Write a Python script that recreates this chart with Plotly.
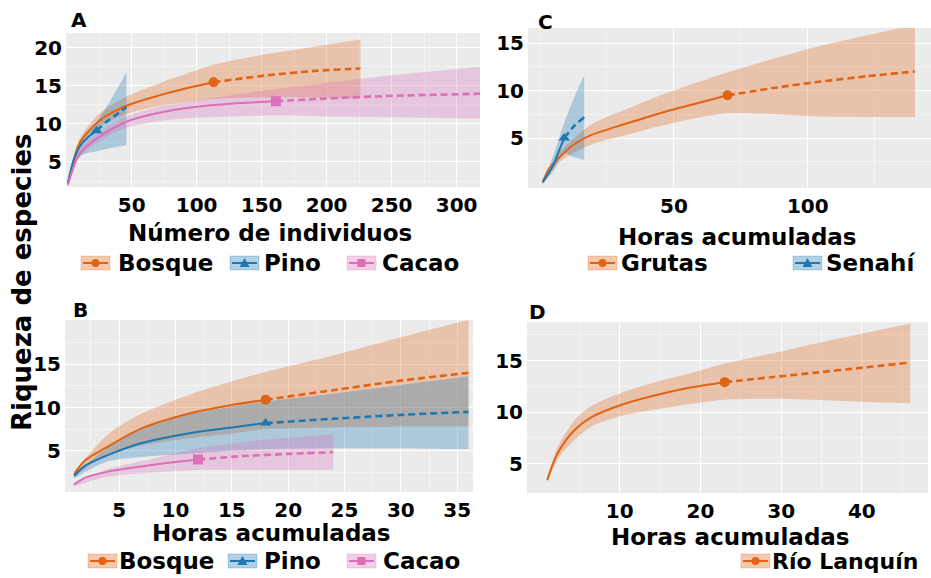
import plotly.graph_objects as go

W, H = 931, 578

# ---------------- DATA ----------------
# Panel A (Número de individuos)
bosque_A_obs_x = [1, 10, 25, 46, 72, 97, 113]
bosque_A_obs_y = [2.2, 7.5, 10.4, 12.4, 13.8, 14.9, 15.5]
bosque_A_ext_x = [113, 154, 192, 226]
bosque_A_ext_y = [15.5, 16.4, 17.0, 17.3]
bosque_A_ci_x = [1, 10, 25, 46, 72, 97, 113, 154, 192, 226]
bosque_A_ci_hi = [2.5, 8.1, 11.3, 13.6, 15.4, 16.9, 17.8, 19.2, 20.2, 21.1]
bosque_A_ci_lo = [2.0, 6.9, 9.6, 11.3, 12.4, 13.0, 13.3, 13.5, 13.5, 13.4]

pino_A_obs_x = [1, 5, 10, 16, 23]
pino_A_obs_y = [2.2, 5.0, 7.0, 8.2, 9.1]
pino_A_ext_x = [23, 30, 38, 46]
pino_A_ext_y = [9.1, 10.2, 11.2, 12.2]
pino_A_ci_x = [1, 10, 23, 33, 46]
pino_A_ci_hi = [2.4, 7.8, 10.3, 12.9, 16.8]
pino_A_ci_lo = [2.0, 5.7, 6.4, 6.8, 7.2]

cacao_A_obs_x = [1, 10, 25, 46, 72, 97, 128, 161]
cacao_A_obs_y = [2.0, 6.1, 8.3, 10.3, 11.5, 12.2, 12.7, 13.0]
cacao_A_ext_x = [161, 200, 250, 322]
cacao_A_ext_y = [13.0, 13.35, 13.7, 14.0]
cacao_A_ci_x = [1, 10, 25, 46, 72, 97, 128, 161, 200, 250, 322]
cacao_A_ci_hi = [2.2, 6.6, 8.9, 11.0, 12.3, 13.0, 13.8, 14.6, 15.4, 16.4, 17.6]
cacao_A_ci_lo = [1.8, 5.6, 7.7, 9.5, 10.4, 10.8, 11.0, 11.1, 11.0, 10.9, 10.7]

# Panel C (Horas acumuladas)
grutas_obs_x = [1, 3, 7, 13, 19, 32, 47, 58, 70]
grutas_obs_y = [0.3, 1.6, 2.9, 4.4, 5.3, 6.5, 7.8, 8.6, 9.5]
grutas_ext_x = [70, 88, 105, 122, 140]
grutas_ext_y = [9.5, 10.3, 10.95, 11.5, 12.0]
grutas_ci_x = [1, 7, 19, 32, 47, 70, 102, 140]
grutas_ci_hi = [0.5, 3.4, 6.4, 8.0, 9.7, 11.9, 14.5, 16.9]
grutas_ci_lo = [0.1, 2.4, 4.3, 5.3, 6.4, 7.6, 7.3, 7.2]

senahi_obs_x = [1, 3, 5, 7, 9]
senahi_obs_y = [0.4, 1.2, 2.2, 3.6, 5.0]
senahi_ext_x = [9, 12.5, 16.5]
senahi_ext_y = [5.0, 6.2, 7.2]
senahi_ci_x = [1, 5, 9, 12.5, 16.5]
senahi_ci_hi = [0.6, 3.2, 6.6, 9.1, 11.6]
senahi_ci_lo = [0.2, 1.5, 3.4, 3.0, 2.7]

# Panel B (Horas acumuladas)
bosque_B_obs_x = [1, 2, 4, 7, 11.5, 15, 18]
bosque_B_obs_y = [2.3, 3.9, 5.5, 7.6, 9.4, 10.3, 10.9]
bosque_B_ext_x = [18, 24, 30, 36]
bosque_B_ext_y = [10.9, 12.0, 13.1, 14.0]
bosque_B_ci_x = [1, 4, 7, 11.5, 15, 18, 24, 30, 36]
bosque_B_ci_hi = [2.6, 6.9, 9.3, 11.6, 13.0, 14.1, 16.0, 18.1, 20.1]
bosque_B_ci_lo = [2.0, 4.6, 5.6, 6.5, 7.0, 7.5, 7.7, 7.8, 7.8]

pino_B_obs_x = [1, 2, 4, 7, 11.5, 15, 18]
pino_B_obs_y = [2.1, 3.3, 4.5, 5.9, 7.1, 7.7, 8.2]
pino_B_ext_x = [18, 24, 30, 36]
pino_B_ext_y = [8.2, 8.7, 9.15, 9.5]
pino_B_ci_x = [1, 4, 7, 11.5, 15, 18, 24, 30, 36]
pino_B_ci_hi = [2.3, 5.4, 7.6, 9.3, 10.1, 10.7, 11.6, 12.6, 13.6]
pino_B_ci_lo = [1.8, 3.8, 4.3, 4.7, 5.0, 5.2, 5.3, 5.3, 5.2]

cacao_B_obs_x = [1, 2, 4, 7, 10, 12]
cacao_B_obs_y = [1.1, 1.9, 2.6, 3.2, 3.7, 4.0]
cacao_B_ext_x = [12, 16, 20, 24]
cacao_B_ext_y = [4.0, 4.4, 4.65, 4.85]
cacao_B_ci_x = [1, 4, 8, 12, 16, 20, 24]
cacao_B_ci_hi = [1.3, 2.9, 4.1, 5.3, 6.0, 6.5, 6.9]
cacao_B_ci_lo = [0.9, 2.0, 2.5, 2.8, 2.8, 2.8, 2.8]

# Panel D (Horas acumuladas)
lanquin_obs_x = [1, 2.3, 4.4, 6.5, 10.6, 14.8, 18.9, 23]
lanquin_obs_y = [3.4, 6.0, 8.25, 9.5, 10.8, 11.7, 12.4, 12.9]
lanquin_ext_x = [23, 29, 34, 40, 46]
lanquin_ext_y = [12.9, 13.4, 13.8, 14.3, 14.8]
lanquin_ci_x = [1, 2.3, 4.4, 6.5, 10.6, 14.8, 18.9, 23, 29, 34, 40, 46]
lanquin_ci_hi = [3.7, 6.6, 9.2, 10.6, 12.0, 13.0, 13.8, 14.7, 15.7, 16.6, 17.6, 18.6]
lanquin_ci_lo = [3.1, 5.4, 7.3, 8.6, 9.7, 10.3, 10.8, 11.2, 11.3, 11.2, 11.0, 10.85]

# tick labels
A_xticks = [50, 100, 150, 200, 250, 300]
A_yticks = [5, 10, 15, 20]
C_xticks = [50, 100]
C_yticks = [5, 10, 15]
B_xticks = [5, 10, 15, 20, 25, 30, 35]
B_yticks = [5, 10, 15]
D_xticks = [10, 20, 30, 40]
D_yticks = [5, 10, 15]

# ---------------- STYLE ----------------
ORANGE = (224, 100, 20)
BLUE = (31, 119, 180)
PINK = (219, 111, 184)
FONT = "DejaVu Sans"


def rgb(c):
    return "rgb(%d,%d,%d)" % c


def rgba(c, a):
    return "rgba(%d,%d,%d,%.2f)" % (c + (a,))


fig = go.Figure()

panels = {
    "A": dict(xa="x", ya="y", series=[
        (bosque_A_obs_x, bosque_A_obs_y, bosque_A_ext_x, bosque_A_ext_y, bosque_A_ci_x, bosque_A_ci_hi, bosque_A_ci_lo, ORANGE, "circle"),
        (pino_A_obs_x, pino_A_obs_y, pino_A_ext_x, pino_A_ext_y, pino_A_ci_x, pino_A_ci_hi, pino_A_ci_lo, BLUE, "triangle-up"),
        (cacao_A_obs_x, cacao_A_obs_y, cacao_A_ext_x, cacao_A_ext_y, cacao_A_ci_x, cacao_A_ci_hi, cacao_A_ci_lo, PINK, "square"),
    ]),
    "C": dict(xa="x2", ya="y2", series=[
        (grutas_obs_x, grutas_obs_y, grutas_ext_x, grutas_ext_y, grutas_ci_x, grutas_ci_hi, grutas_ci_lo, ORANGE, "circle"),
        (senahi_obs_x, senahi_obs_y, senahi_ext_x, senahi_ext_y, senahi_ci_x, senahi_ci_hi, senahi_ci_lo, BLUE, "triangle-up"),
    ]),
    "B": dict(xa="x3", ya="y3", series=[
        (bosque_B_obs_x, bosque_B_obs_y, bosque_B_ext_x, bosque_B_ext_y, bosque_B_ci_x, bosque_B_ci_hi, bosque_B_ci_lo, ORANGE, "circle"),
        (pino_B_obs_x, pino_B_obs_y, pino_B_ext_x, pino_B_ext_y, pino_B_ci_x, pino_B_ci_hi, pino_B_ci_lo, BLUE, "triangle-up"),
        (cacao_B_obs_x, cacao_B_obs_y, cacao_B_ext_x, cacao_B_ext_y, cacao_B_ci_x, cacao_B_ci_hi, cacao_B_ci_lo, PINK, "square"),
    ]),
    "D": dict(xa="x4", ya="y4", series=[
        (lanquin_obs_x, lanquin_obs_y, lanquin_ext_x, lanquin_ext_y, lanquin_ci_x, lanquin_ci_hi, lanquin_ci_lo, ORANGE, "circle"),
    ]),
}

for key, p in panels.items():
    xa, ya = p["xa"], p["ya"]
    # confidence bands first
    for (ox, oy, ex, ey, cx, hi, lo, col, sym) in p["series"]:
        fig.add_trace(go.Scatter(x=cx, y=hi, xaxis=xa, yaxis=ya, mode="lines",
                                 line=dict(width=0, shape="spline", smoothing=0.8),
                                 showlegend=False, hoverinfo="skip"))
        fig.add_trace(go.Scatter(x=cx, y=lo, xaxis=xa, yaxis=ya, mode="lines",
                                 line=dict(width=0, shape="spline", smoothing=0.8),
                                 fill="tonexty", fillcolor=rgba(col, 0.30),
                                 showlegend=False, hoverinfo="skip"))
    # rarefaction (solid), extrapolation (dashed), observed point
    for (ox, oy, ex, ey, cx, hi, lo, col, sym) in p["series"]:
        fig.add_trace(go.Scatter(x=ex, y=ey, xaxis=xa, yaxis=ya, mode="lines",
                                 line=dict(color=rgb(col), width=2.6, dash="7px,4px",
                                           shape="spline", smoothing=0.6),
                                 showlegend=False))
        fig.add_trace(go.Scatter(x=ox, y=oy, xaxis=xa, yaxis=ya, mode="lines",
                                 line=dict(color=rgb(col), width=2, shape="spline", smoothing=0.8),
                                 showlegend=False))
        fig.add_trace(go.Scatter(x=[ox[-1]], y=[oy[-1]], xaxis=xa, yaxis=ya, mode="markers",
                                 marker=dict(color=rgb(col), size=10, symbol=sym),
                                 showlegend=False))


def dom_x(l, r):
    return [l / W, r / W]


def dom_y(t, b):
    return [1 - b / H, 1 - t / H]


tickfont = dict(family=FONT, size=20, color="black", weight="bold")
grid = dict(showgrid=True, gridcolor="white", gridwidth=1.2, zeroline=False,
            showline=False, ticks="", tickmode="array", tickfont=tickfont)


def minor(vals):
    return dict(tickvals=vals, showgrid=True, gridcolor="#F4F4F4", gridwidth=0.6, ticks="")


layout_axes = dict(
    xaxis=dict(domain=dom_x(66, 480), range=[-0.5, 318], tickvals=A_xticks, anchor="y",
               minor=minor([25, 75, 125, 175, 225, 275]), ticklabelstandoff=4, **grid),
    yaxis=dict(domain=dom_y(33, 187), range=[1.71, 21.97], tickvals=A_yticks, anchor="x",
               minor=minor([2.5, 7.5, 12.5, 17.5]), ticklabelstandoff=3, **grid),
    xaxis2=dict(domain=dom_x(528, 931), range=[-4.5, 146], tickvals=C_xticks, anchor="y2",
                minor=minor([0, 25, 75, 125]), ticklabelstandoff=4, **grid),
    yaxis2=dict(domain=dom_y(28, 188), range=[-0.26, 16.58], tickvals=C_yticks, anchor="x2",
                minor=minor([2.5, 7.5, 12.5]), ticklabelstandoff=3, **grid),
    xaxis3=dict(domain=dom_x(65, 473), range=[0.2, 36.4], tickvals=B_xticks, anchor="y3",
                minor=minor([2.5, 7.5, 12.5, 17.5, 22.5, 27.5, 32.5]), ticklabelstandoff=4, **grid),
    yaxis3=dict(domain=dom_y(320, 492), range=[0.25, 20.1], tickvals=B_yticks, anchor="x3",
                minor=minor([2.5, 7.5, 12.5, 17.5]), ticklabelstandoff=3, **grid),
    xaxis4=dict(domain=dom_x(527, 928), range=[-1.5, 48.2], tickvals=D_xticks, anchor="y4",
                minor=minor([5, 15, 25, 35, 45]), ticklabelstandoff=4, **grid),
    yaxis4=dict(domain=dom_y(322, 493), range=[2.14, 18.74], tickvals=D_yticks, anchor="x4",
                minor=minor([7.5, 12.5, 17.5]), ticklabelstandoff=3, **grid),
)


def px2x(px):
    return px / W


def px2y(py):
    return 1 - py / H


annotations = []


def text(px, py, s, size, xanchor="center", angle=0):
    annotations.append(dict(x=px2x(px), y=px2y(py), xref="paper", yref="paper", text=s,
                            showarrow=False, xanchor=xanchor, yanchor="middle", textangle=angle,
                            borderpad=0,
                            font=dict(family=FONT, size=size, color="black", weight="bold")))


# y title
text(22, 282, "Riqueza de especies", 26, angle=-90)
# panel letters
text(79, 20, "A", 20)
text(545, 22, "C", 20)
text(80, 310, "B", 20)
text(537, 312, "D", 20)
# axis titles
text(270, 233, "Número de individuos", 23)
text(737, 237, "Horas acumuladas", 23)
text(271, 533, "Horas acumuladas", 23)
text(730, 537, "Horas acumuladas", 23)

# legends: (icon_left, text_left, center_y, label, colour, symbol, font size)
legend_items = [
    (81, 117, 263, "Bosque", ORANGE, "circle", 23),
    (230, 263, 263, "Pino", BLUE, "triangle", 23),
    (347, 381, 263, "Cacao", PINK, "square", 23),
    (588, 620, 263, "Grutas", ORANGE, "circle", 23),
    (793, 825, 263, "Senahí", BLUE, "triangle", 23),
    (88, 118, 561, "Bosque", ORANGE, "circle", 23),
    (228, 263, 561, "Pino", BLUE, "triangle", 23),
    (347, 382, 561, "Cacao", PINK, "square", 23),
    (741, 771, 561, "Río Lanquín", ORANGE, "circle", 22),
]

shapes = []
IW, IH = 29, 14
for (il, tl, cy, lab, col, sym, fs) in legend_items:
    shapes.append(dict(type="rect", xref="paper", yref="paper",
                       x0=px2x(il), x1=px2x(il + IW), y0=px2y(cy + IH / 2), y1=px2y(cy - IH / 2),
                       fillcolor=rgba(col, 0.35), line=dict(color=rgba(col, 0.25), width=1)))
    shapes.append(dict(type="line", xref="paper", yref="paper",
                       x0=px2x(il + 2), x1=px2x(il + IW - 2), y0=px2y(cy), y1=px2y(cy),
                       line=dict(color=rgb(col), width=2)))
    cx = il + IW / 2
    if sym == "circle":
        shapes.append(dict(type="circle", xref="paper", yref="paper",
                           x0=px2x(cx - 4), x1=px2x(cx + 4), y0=px2y(cy + 4), y1=px2y(cy - 4),
                           fillcolor=rgb(col), line=dict(width=0)))
    elif sym == "square":
        shapes.append(dict(type="rect", xref="paper", yref="paper",
                           x0=px2x(cx - 4), x1=px2x(cx + 4), y0=px2y(cy + 4), y1=px2y(cy - 4),
                           fillcolor=rgb(col), line=dict(width=0)))
    else:
        path = "M %f,%f L %f,%f L %f,%f Z" % (px2x(cx - 5), px2y(cy + 4), px2x(cx + 5), px2y(cy + 4),
                                               px2x(cx), px2y(cy - 5))
        shapes.append(dict(type="path", xref="paper", yref="paper", path=path,
                           fillcolor=rgb(col), line=dict(width=0)))
    text(tl, cy, lab, fs, xanchor="left")

fig.update_layout(
    width=W, height=H, margin=dict(l=0, r=0, t=0, b=0),
    paper_bgcolor="white", plot_bgcolor="#EBEBEB",
    showlegend=False, annotations=annotations, shapes=shapes,
    font=dict(family=FONT),
    **layout_axes,
)

fig.write_html("out.html", config={"displayModeBar": False},
               post_script="document.body.style.margin='0';document.body.style.overflow='hidden';")
